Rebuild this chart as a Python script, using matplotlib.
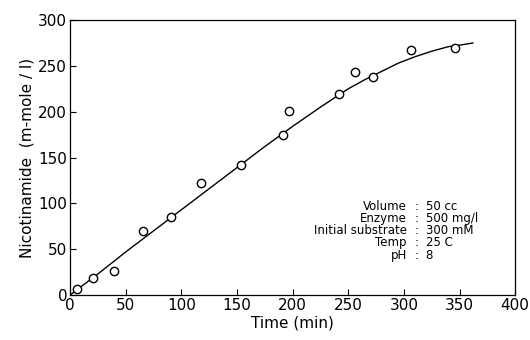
import matplotlib
matplotlib.use("Agg")
import matplotlib.pyplot as plt

# measured points
time_min = [6, 21, 40, 66, 91, 118, 154, 191, 197, 242, 256, 272, 306, 346]
nicotinamide = [7, 19, 26, 70, 85, 122, 142, 175, 201, 219, 243, 238, 267, 269]

# fitted curve drawn through the data
fit_t = [0, 25, 50, 75, 100, 125, 150, 175, 200, 225, 250, 265, 280, 295,
         310, 325, 340, 352, 362]
fit_y = [0, 23, 47, 70, 93, 116, 139, 162, 184, 205, 225, 235, 244, 253,
         260, 266, 271, 273, 275]

cond_labels = ["Volume", "Enzyme", "Initial substrate", "Temp", "pH"]
cond_values = ["50 cc", "500 mg/l", "300 mM", "25 C", "8"]

plt.rcParams["font.family"] = ["DejaVu Sans"]

fig = plt.figure(figsize=(5.3, 3.4), dpi=100)
ax = fig.add_axes([0.132, 0.132, 0.840, 0.809])

ax.plot(fit_t, fit_y, color="black", linewidth=1.0)
ax.plot(time_min, nicotinamide, linestyle="none", marker="o", markersize=6,
        markerfacecolor="white", markeredgecolor="black", markeredgewidth=1.0)

ax.set_xlim(0, 400)
ax.set_ylim(0, 300)
ax.set_xticks(range(0, 401, 50))
ax.set_yticks(range(0, 301, 50))
ax.tick_params(direction="in", length=4, width=0.8, labelsize=11, pad=2)
for s in ax.spines.values():
    s.set_linewidth(0.9)

ax.set_xlabel("Time (min)", fontsize=11, labelpad=2)
ax.set_ylabel("Nicotinamide  (m-mole / l)", fontsize=11, labelpad=3)

# experimental conditions block
row_y = [0.321, 0.279, 0.236, 0.190, 0.145]
for lab, val, yy in zip(cond_labels, cond_values, row_y):
    ax.text(0.757, yy, lab, transform=ax.transAxes, ha="right", va="center", fontsize=8.5)
    ax.text(0.778, yy, ":", transform=ax.transAxes, ha="center", va="center", fontsize=8.5)
    ax.text(0.799, yy, val, transform=ax.transAxes, ha="left", va="center", fontsize=8.5)

fig.savefig("out.png", dpi=100)
